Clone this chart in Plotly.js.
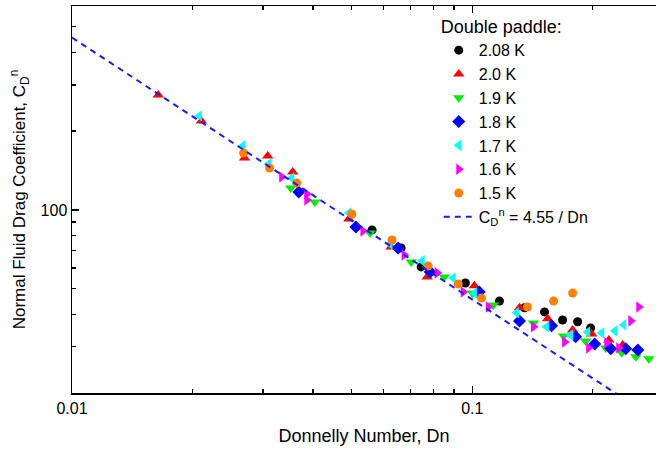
<!DOCTYPE html>
<html><head><meta charset="utf-8">
<script src="https://cdn.plot.ly/plotly-3.0.1.min.js"></script>
<style>html,body{margin:0;padding:0;background:#fff}</style>
</head><body>
<div id="chart" style="width:656px;height:449px"></div>
<script>
// ---- data ----
const dn_208 = [0.0562, 0.0664, 0.0745, 0.0961, 0.1169, 0.1350, 0.1515, 0.1681, 0.1833, 0.1975];
const cd_208 = [83.9, 71.6, 60.6, 52.6, 44.9, 42.3, 40.8, 38.0, 37.4, 35.4];

const dn_200 = [0.01642, 0.02105, 0.02698, 0.03082, 0.03559, 0.04916, 0.06266, 0.07714, 0.1012, 0.1312, 0.1542, 0.1781, 0.1987, 0.2193, 0.2376];
const cd_200 = [274.7, 218.6, 157.9, 160.7, 139.6, 92.4, 72.2, 55.5, 51.3, 42.3, 38.4, 34.8, 33.6, 31.9, 30.5];

const dn_190 = [0.03519, 0.04042, 0.05552, 0.07035, 0.0851, 0.1000, 0.1129, 0.1422, 0.1691, 0.1919, 0.2155, 0.2362, 0.2562, 0.2761];
const cd_190 = [121.3, 107.3, 81.7, 63.3, 55.5, 48.2, 43.4, 37.0, 33.0, 31.6, 29.7, 28.5, 27.5, 27.0];

const dn_180 = [0.03685, 0.05120, 0.06525, 0.0785, 0.1041, 0.1312, 0.1578, 0.1812, 0.2022, 0.2218, 0.2418, 0.2592];
const cd_180 = [117.2, 86.1, 71.6, 58.0, 48.6, 37.7, 36.1, 32.8, 30.8, 29.5, 29.5, 29.2];

const dn_170 = [0.02081, 0.02668, 0.03099, 0.03540, 0.04916, 0.06230, 0.07495, 0.0896, 0.1012, 0.1289, 0.1532, 0.1761, 0.1942, 0.2105, 0.2270, 0.2390];
const cd_170 = [228.4, 175.5, 149.8, 132.5, 97.4, 74.2, 63.9, 55.0, 48.2, 40.5, 35.8, 33.3, 34.2, 33.9, 34.5, 36.4];

const dn_160 = [0.03341, 0.03860, 0.03860, 0.05331, 0.06756, 0.0817, 0.0949, 0.1097, 0.1422, 0.1701, 0.1953, 0.2168, 0.2322, 0.2489, 0.2606];
const cd_160 = [133.7, 115.1, 109.2, 83.1, 67.3, 57.5, 48.6, 42.6, 35.8, 31.3, 29.7, 31.1, 29.7, 37.7, 42.6];

const dn_150 = [0.02683, 0.03117, 0.03643, 0.05003, 0.06302, 0.07758, 0.0922, 0.1054, 0.1373, 0.1596, 0.1781];
const cd_150 = [165.0, 144.6, 126.8, 96.5, 76.8, 61.1, 52.2, 46.1, 42.6, 44.9, 48.2];

// fit line C_D^n = 4.55 / Dn, endpoints
const fit_dn = [0.01, 0.3];
const fit_cd = [455, 15.17];

const xTickVals = [0.01, 0.1];
const xTickText = ["0.01", "0.1"];
const xMinorVals = [0.02, 0.03, 0.04, 0.05, 0.06, 0.07, 0.08, 0.09, 0.2, 0.3];
const yTickVals = [100];
const yTickText = ["100"];
const yMinorVals = [20, 30, 40, 50, 60, 70, 80, 90, 200, 300, 400, 500];

const FONT = "Arial, 'Liberation Sans', sans-serif";

function series(x, y, name, symbol, color, size) {
  return {x: x, y: y, name: name, type: 'scatter', mode: 'markers',
          marker: {symbol: symbol, color: color, size: size, line: {width: 0}}};
}

const traces = [
  series(dn_208, cd_208, '2.08 K', 'circle', '#000000', 9),
  series(dn_200, cd_200, '2.0 K', 'triangle-up', '#ff0000', 10),
  series(dn_190, cd_190, '1.9 K', 'triangle-down', '#00ee00', 10),
  series(dn_180, cd_180, '1.8 K', 'diamond', '#0000ff', 10),
  series(dn_170, cd_170, '1.7 K', 'triangle-left', '#00ffff', 10),
  series(dn_160, cd_160, '1.6 K', 'triangle-right', '#ff00ff', 10),
  series(dn_150, cd_150, '1.5 K', 'circle', '#ff8000', 9),
  {x: fit_dn, y: fit_cd, name: 'C<sub>D</sub><sup>n</sup> = 4.55 / Dn', type: 'scatter', mode: 'lines',
   line: {color: '#1a1aff', width: 2, dash: '6px,5px'}}
];

const layout = {
  width: 656, height: 449,
  margin: {l: 72, r: 0, t: 6, b: 56},
  paper_bgcolor: '#fff', plot_bgcolor: '#fff',
  font: {family: FONT, color: '#000', size: 15},
  showlegend: true,
  legend: {
    x: 0.628, y: 0.99, xanchor: 'left', yanchor: 'top',
    bgcolor: 'rgba(0,0,0,0)', borderwidth: 0,
    font: {family: FONT, size: 16, color: '#000'},
    title: {text: 'Double paddle:', font: {family: FONT, size: 18, color: '#000'}},
    tracegroupgap: 0, itemsizing: 'trace'
  },
  xaxis: {
    type: 'log', range: [-2, Math.log10(0.2877)],
    showline: true, linecolor: '#000', linewidth: 1.5, mirror: 'ticks',
    showgrid: false, zeroline: false,
    tickmode: 'array', tickvals: xTickVals, ticktext: xTickText,
    ticks: 'inside', ticklen: 7, tickwidth: 1.3, tickcolor: '#000',
    tickfont: {family: FONT, size: 16},
    minor: {tickmode: 'array', tickvals: xMinorVals, ticks: 'inside', ticklen: 4, tickwidth: 1.2, tickcolor: '#000', showgrid: false},
    title: {text: 'Donnelly Number, Dn', font: {family: FONT, size: 18}, standoff: 13}
  },
  yaxis: {
    type: 'log', range: [Math.log10(20), 2 + 204/262],
    showline: true, linecolor: '#000', linewidth: 1.5, mirror: false,
    showgrid: false, zeroline: false,
    tickmode: 'array', tickvals: yTickVals, ticktext: yTickText,
    ticks: 'inside', ticklen: 7, tickwidth: 1.3, tickcolor: '#000',
    tickfont: {family: FONT, size: 16},
    minor: {tickmode: 'array', tickvals: yMinorVals, ticks: 'inside', ticklen: 4, tickwidth: 1.2, tickcolor: '#000', showgrid: false},
    title: {text: 'Normal Fluid Drag Coefficient, C<sub>D</sub><sup>n</sup>', font: {family: FONT, size: 17}, standoff: 10}
  }
};

Plotly.newPlot('chart', traces, layout, {displayModeBar: false, staticPlot: true});
</script>
</body></html>
